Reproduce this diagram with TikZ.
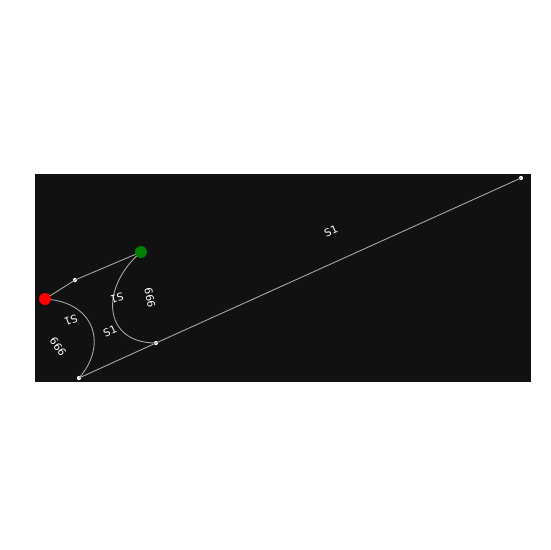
\documentclass[tikz,border=0pt]{standalone}
\usepackage{fontspec}
\setmainfont{DejaVu Sans}
\begin{document}
\begin{tikzpicture}[x=1pt,y=-1pt,
  edge/.style={draw=black!35!white, line width=0.9pt},
  pt/.style={circle, fill=white, inner sep=0pt, minimum size=4.2pt},
  lbl/.style={text=white, font=\fontsize{10.5}{12}\selectfont, inner sep=0pt}]
\useasboundingbox[fill=white] (0,0) rectangle (550,550);
\fill[fill={rgb,255:red,17;green,17;blue,17}] (35,174) rectangle (531,382);
\coordinate (r) at (45,299);
\coordinate (g) at (141,252);
\node[pt] (a) at (75,280) {};
\node[pt] (b) at (156,343) {};
\node[pt] (c) at (79,378) {};
\node[pt] (d) at (521,178) {};
\draw[edge] (r) -- (a.center) -- (g);
\draw[edge] (g) .. controls (100,287) and (102,343) .. (b.center);
\draw[edge] (r) .. controls (95,302) and (108,345) .. (c.center);
\draw[edge] (c.center) -- (b.center) -- (d.center);
\node[circle, fill=red, inner sep=0pt, minimum size=12pt] (rn) at (r) {};
\node[circle, fill={rgb,255:red,0;green,128;blue,0}, inner sep=0pt, minimum size=12pt] (gn) at (g) {};
\node[lbl, rotate=24] (l1) at (331,231) {S1};
\node[lbl, rotate=24] (l2) at (110,331) {S1};
\node[lbl, rotate=195] (l3) at (117,298) {S1};
\node[lbl, rotate=-80] (l4) at (150,298) {666};
\node[lbl, rotate=200] (l5) at (71,320) {S1};
\node[lbl, rotate=-55] (l6) at (58,347) {666};
\end{tikzpicture}
\end{document}
